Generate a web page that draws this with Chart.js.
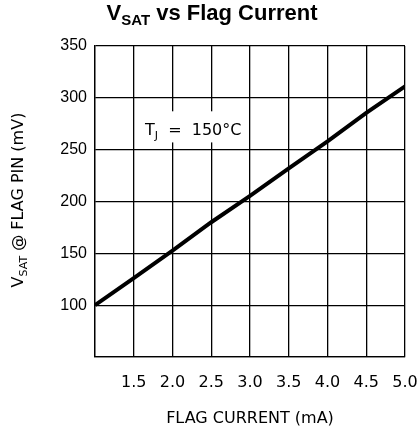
<!DOCTYPE html>
<html>
<head>
<meta charset="utf-8">
<script src="https://cdn.jsdelivr.net/npm/chart.js@4.4.1/dist/chart.umd.min.js"></script>
<style>
  body { margin: 0; background: #fff; }
  canvas { display: block; }
</style>
</head>
<body>
<canvas id="chart" width="419" height="436"></canvas>
<script>
// values
var flagCurrent = [1.0, 1.5, 2.0, 2.5, 3.0, 3.5, 4.0, 4.5, 5.0];   // mA
var vsat = [100, 126, 152.5, 180, 205.5, 232, 258, 285.5, 311];     // mV
var xTickLabels = [1.5, 2.0, 2.5, 3.0, 3.5, 4.0, 4.5, 5.0];
var yTickLabels = [100, 150, 200, 250, 300, 350];

var titleParts = [['V', 22, 0], ['SAT', 15, 5], [' vs Flag Current', 22, 0]];
var yTitleParts = [['V', 16, 0], ['SAT', 11, 4], [' @ FLAG PIN (mV)', 16, 0]];
var xTitle = 'FLAG CURRENT (mA)';
var noteParts = [['T', 16, 0], ['J', 11, 4], ['  =  150\u00b0C', 16, 0]];

var sans = '"Liberation Sans", Arial, sans-serif';
var plain = '"DejaVu Sans", sans-serif';

function partsWidth(ctx, parts, family, weight) {
  var w = 0;
  for (var i = 0; i < parts.length; i++) {
    ctx.font = weight + ' ' + parts[i][1] + 'px ' + family;
    w += ctx.measureText(parts[i][0]).width;
  }
  return w;
}

function drawParts(ctx, parts, family, weight, x, y) {
  for (var i = 0; i < parts.length; i++) {
    ctx.font = weight + ' ' + parts[i][1] + 'px ' + family;
    ctx.fillText(parts[i][0], x, y + parts[i][2]);
    x += ctx.measureText(parts[i][0]).width;
  }
}

var textPlugin = {
  id: 'richText',
  afterDraw: function(chart) {
    var ctx = chart.ctx;
    var xs = chart.scales.x;
    var ys = chart.scales.y;
    ctx.save();
    ctx.fillStyle = '#000';
    ctx.textBaseline = 'alphabetic';
    ctx.textAlign = 'left';

    // title
    var tw = partsWidth(ctx, titleParts, sans, 'bold');
    drawParts(ctx, titleParts, sans, 'bold', 212 - tw / 2, 20);

    // y axis title, rotated
    ctx.save();
    ctx.translate(23, 200);
    ctx.rotate(-Math.PI / 2);
    var yw = partsWidth(ctx, yTitleParts, plain, 'normal');
    drawParts(ctx, yTitleParts, plain, 'normal', -yw / 2, 0);
    ctx.restore();

    // temperature note on a white box
    var bx0 = xs.getPixelForValue(1.58), bx1 = xs.getPixelForValue(2.95);
    var by0 = ys.getPixelForValue(287), by1 = ys.getPixelForValue(257);
    ctx.fillStyle = '#fff';
    ctx.fillRect(bx0, by0, bx1 - bx0, by1 - by0);
    ctx.fillStyle = '#000';
    drawParts(ctx, noteParts, plain, 'normal', xs.getPixelForValue(1.645), ys.getPixelForValue(264.5));
    ctx.restore();
  }
};

var ctx = document.getElementById('chart').getContext('2d');
var vsatChart = new Chart(ctx, {
  type: 'line',
  data: {
    datasets: [{
      data: flagCurrent.map(function(x, i) { return { x: x, y: vsat[i] }; }),
      borderColor: '#000',
      borderWidth: 4,
      pointRadius: 0,
      tension: 0,
      fill: false
    }]
  },
  options: {
    responsive: false,
    animation: false,
    layout: { padding: { top: 46, left: 0, right: 14, bottom: 0 } },
    plugins: {
      legend: { display: false },
      tooltip: { enabled: false }
    },
    scales: {
      x: {
        type: 'linear',
        min: 1,
        max: 5,
        afterFit: function(scale) {
          scale.height = 79;
          scale.paddingLeft = 0;
          scale.paddingRight = 0;
        },
        ticks: {
          stepSize: 0.5,
          color: '#000',
          padding: 16,
          maxRotation: 0,
          autoSkip: false,
          font: { family: plain, size: 16 },
          callback: function(v) { return xTickLabels.indexOf(v) >= 0 ? v.toFixed(1) : ''; }
        },
        grid: { color: '#000', lineWidth: 1.3, drawTicks: false },
        border: { color: '#000', width: 1.3 },
        title: {
          display: true,
          text: xTitle,
          color: '#000',
          font: { family: plain, size: 16 },
          padding: { top: 0, bottom: 8 }
        }
      },
      y: {
        min: 50,
        max: 350,
        afterFit: function(scale) {
          scale.width = 95;
          scale.paddingTop = 0;
          scale.paddingBottom = 0;
        },
        ticks: {
          stepSize: 50,
          color: '#000',
          padding: 8,
          font: { family: sans, size: 16 },
          callback: function(v) { return yTickLabels.indexOf(v) >= 0 ? String(v) : ''; }
        },
        grid: { color: '#000', lineWidth: 1.3, drawTicks: false },
        border: { color: '#000', width: 1.3 }
      }
    }
  },
  plugins: [textPlugin]
});
</script>
</body>
</html>
